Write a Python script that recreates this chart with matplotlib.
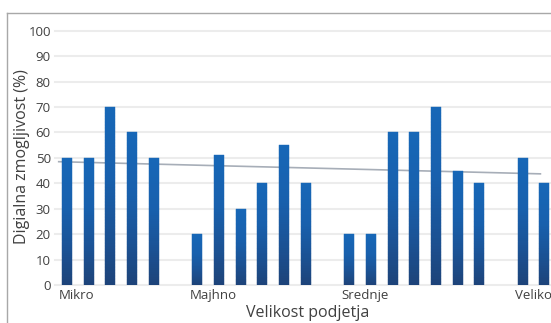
import numpy as np
import matplotlib
matplotlib.use("Agg")
import matplotlib.pyplot as plt
from matplotlib.colors import LinearSegmentedColormap
from matplotlib.lines import Line2D

plt.rcParams['font.family'] = ['Open Sans', 'DejaVu Sans']

# Company size groups and the digital capability of each surveyed company
groups = ["Mikro", "Majhno", "Srednje", "Veliko"]
mikro = [50, 50, 70, 60, 50]
majhno = [20, 51, 30, 40, 55, 40]
srednje = [20, 20, 60, 60, 70, 45, 40]
veliko = [50, 40, 45]

# Linear trend across all companies (start / end value)
trend_values = [48.5, 43.7]

y_ticks = list(range(0, 101, 10))
y_label = "Digialna zmogljivost (%)"
x_label = "Velikost podjetja"

# Lay the groups out one slot per company, with an empty slot between groups
series = [mikro, majhno, srednje, veliko]
positions, values, group_starts = [], [], []
slot = 0
for vals in series:
    group_starts.append(slot)
    for v in vals:
        positions.append(slot)
        values.append(v)
        slot += 1
    slot += 1
positions = np.array(positions, dtype=float)
values = np.array(values, dtype=float)

W, H, DPI = 551, 323, 100
fig = plt.figure(figsize=(W / DPI, H / DPI), dpi=DPI)
fig.patch.set_facecolor("white")

ax_left_px, ax_right_px = 55, 551
ax_bottom_px, ax_top_px = 285, 30.7
ax = fig.add_axes([ax_left_px / W, (H - ax_bottom_px) / H,
                   (ax_right_px - ax_left_px) / W, (ax_bottom_px - ax_top_px) / H])

xmin, xmax = -0.553, 22.30
ymin, ymax = 0, 100

text_color = "#404040"

# horizontal gridlines
for t in y_ticks:
    ax.axhline(t, color="#ececec", lw=1.5, zorder=0.5, clip_on=False)

# trend line (behind the bars)
ax.plot([positions[0] - 0.42, 21.85], trend_values, color="#a7aeb8", lw=1.2,
        zorder=1, solid_capstyle="butt")

# gradient bars: each bar is split into thin slices shaded from a dark navy
# base to a brighter blue top
cmap = LinearSegmentedColormap.from_list(
    "bar", [(0.0, "#1d4379"), (0.3, "#1b5396"), (0.6, "#1860ad"), (1.0, "#1767b7")])
n_slices = 60
bw = 0.46
for k in range(n_slices):
    f0, f1 = k / n_slices, (k + 1) / n_slices
    ax.bar(positions, values * (f1 - f0), bottom=values * f0, width=bw,
           color=cmap((f0 + f1) / 2), edgecolor=cmap((f0 + f1) / 2),
           linewidth=0.3, zorder=2)

ax.set_xlim(xmin, xmax)
ax.set_ylim(ymin, ymax)

for s in ax.spines.values():
    s.set_visible(False)

ax.set_yticks(y_ticks)
ax.tick_params(axis="y", length=0, pad=3, labelsize=9.5, labelcolor=text_color)
ax.set_xticks([])

# group labels, left-aligned at the start of each group
for name, start in zip(groups, group_starts):
    ax.annotate(name, xy=(start - 0.36, 0), xycoords=("data", "axes fraction"),
                xytext=(0, -3), textcoords="offset points", ha="left", va="top",
                fontsize=9.5, color=text_color, annotation_clip=False)

fig.text(308 / W, 1 - 313 / H, x_label, ha="center", va="center",
         fontsize=11.5, color=text_color)
fig.text(22 / W, 1 - 157 / H, y_label, ha="center", va="center",
         rotation=90, fontsize=11.5, color=text_color)

# chart area border (left and top edges)
border = "#a8a8a8"
fig.add_artist(Line2D([7 / W, 7 / W], [0, 1 - 13 / H], color=border, lw=1.0,
                      transform=fig.transFigure))
fig.add_artist(Line2D([7 / W, 1], [1 - 13 / H, 1 - 13 / H], color=border, lw=1.0,
                      transform=fig.transFigure))

fig.savefig("out.png", dpi=DPI, facecolor="white")
